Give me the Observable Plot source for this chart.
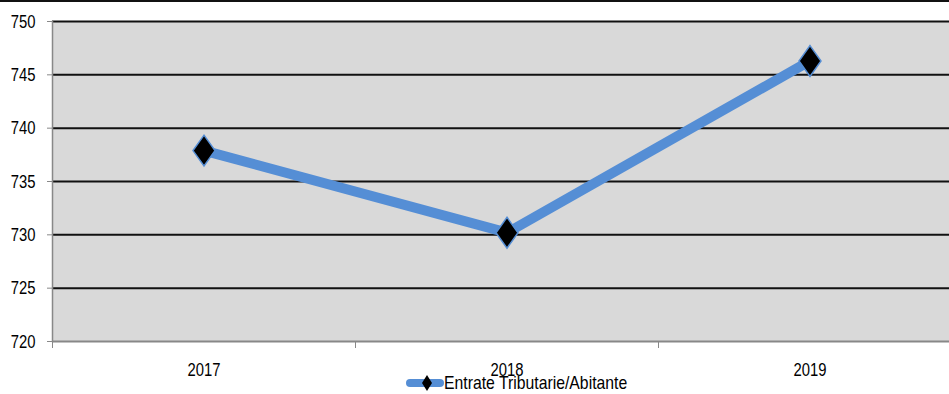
<!DOCTYPE html>
<html>
<head>
<meta charset="utf-8">
<script src="https://cdn.jsdelivr.net/npm/d3@7"></script>
<script src="https://cdn.jsdelivr.net/npm/@observablehq/plot@0.6"></script>
<style>
  html, body { margin: 0; padding: 0; background: #fff; }
  #wrap { position: relative; width: 949px; height: 394px; overflow: hidden;
          font-family: "Liberation Sans", Arial, sans-serif; }
  #topline { position: absolute; left: 0; top: 0; width: 949px; height: 2px; background: #111; }
  #legend { position: absolute; left: 406px; top: 372px; display: flex; align-items: center;
            font-size: 19px; color: #000; white-space: nowrap; }
  #legend svg { display: block; }
  #legend span { display: inline-block; transform: scaleX(0.83); transform-origin: left center; }
</style>
</head>
<body>
<div id="wrap">
  <div id="chart"></div>
  <div id="topline"></div>
  <div id="legend"></div>
</div>
<script>
// Tax revenue per inhabitant, by year
const years = [2017, 2018, 2019];
const values = [737.9, 730.2, 746.3];
const yTicks = [720, 725, 730, 735, 740, 745, 750];
const seriesName = "Entrate Tributarie/Abitante";

const data = years.map((year, i) => ({year, value: values[i]}));
const bounds = years.map(y => y - 0.5);

const lineBlue = "#558ed5";

// Tall diamond marker
const tallDiamond = {
  draw(ctx, size) {
    const s = Math.sqrt(size / Math.PI);
    ctx.moveTo(0, -s * 1.4);
    ctx.lineTo(s, 0);
    ctx.lineTo(0, s * 1.4);
    ctx.lineTo(-s, 0);
    ctx.closePath();
  }
};

const chart = Plot.plot({
  width: 949,
  height: 394,
  marginLeft: 52,
  marginRight: 0,
  marginTop: 21,
  marginBottom: 53,
  style: {fontFamily: "'Liberation Sans', Arial, sans-serif", fontSize: "19px", color: "#000", background: "transparent"},
  x: {type: "linear", domain: [years[0] - 0.5, years[years.length - 1] + 0.5], range: [52, 961]},
  y: {domain: [720, 750], range: [341, 21]},
  marks: [
    Plot.frame({fill: "#d9d9d9", stroke: null}),
    Plot.ruleY(yTicks.filter(d => d > 720), {stroke: "#111", strokeWidth: 2}),
    Plot.ruleY([720], {stroke: "#888", strokeWidth: 2}),
    Plot.frame({anchor: "left", stroke: "#888", strokeWidth: 1.5}),
    Plot.axisY({ticks: yTicks, tickSize: 5, tickPadding: 12, stroke: "#888", tickFormat: d => String(d), label: null}),
    Plot.axisX({ticks: bounds.concat([years[0] - 0.5]), tickSize: 7, tickFormat: () => "", stroke: "#888", label: null}),
    Plot.axisX({ticks: years, tickSize: 0, tickPadding: 21, tickFormat: d => String(d), label: null}),
    Plot.line(data, {x: "year", y: "value", stroke: lineBlue, strokeWidth: 10}),
    Plot.dot(data, {x: "year", y: "value", symbol: tallDiamond, r: 11, fill: "#000", stroke: lineBlue, strokeWidth: 1.5})
  ]
});
document.getElementById("chart").appendChild(chart);

// Condense tick labels horizontally around their anchor point
d3.select(chart).selectAll('g[aria-label$="tick label"] text').each(function() {
  const t = this.getAttribute("transform") || "";
  this.setAttribute("transform", t + " scale(0.78,1)");
});

// Legend: line sample with marker, then series name
const legend = d3.select("#legend");
const sw = legend.append("svg").attr("width", 38).attr("height", 20);
sw.append("line").attr("x1", 4).attr("x2", 34).attr("y1", 10).attr("y2", 10)
  .attr("stroke", lineBlue).attr("stroke-width", 8).attr("stroke-linecap", "round");
sw.append("path").attr("d", "M21,2L26,10L21,18L16,10Z").attr("fill", "#000");
legend.append("span").text(seriesName);
</script>
</body>
</html>
